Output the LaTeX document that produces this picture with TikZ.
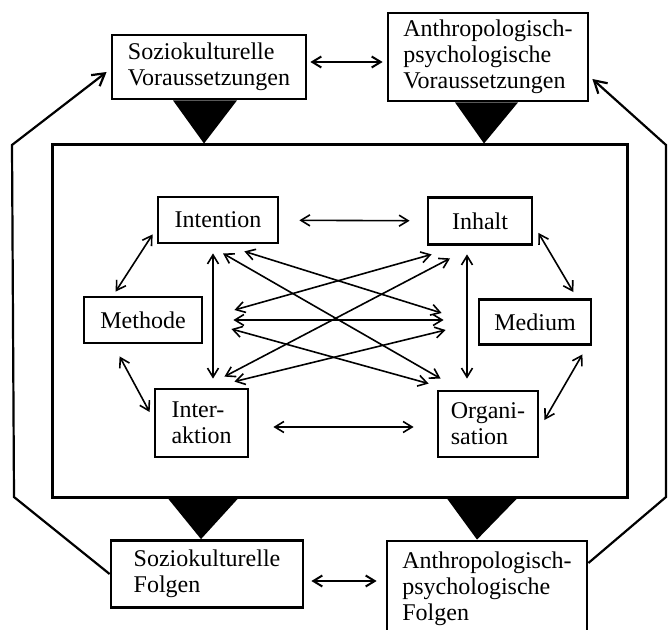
\documentclass[tikz,border=0pt]{standalone}
\usepackage{fontspec}
\setmainfont{Liberation Serif}
\usetikzlibrary{positioning, arrows.meta, calc}

\tikzset{
  kasten/.style={draw, line width=1.4pt, align=left, inner sep=0pt,
                 font=\fontsize{12}{13}\selectfont},
  pfeil/.style={{Straight Barb[length=4.5pt,width=5.5pt]}-{Straight Barb[length=4.5pt,width=5.5pt]},
                line width=0.8pt},
  bogen/.style={-{Straight Barb[length=6pt,width=7pt]}, line width=1.1pt},
  keil/.style={fill=black},
}

\begin{document}
\begin{tikzpicture}[x=0.5pt, y=-0.5pt]
  \useasboundingbox (0,0) rectangle (668,630);
  \clip (0,0) rectangle (668,630);

  % Voraussetzungen
  \node[kasten, minimum width=97pt, minimum height=32pt] (sv) at (209,67) {Soziokulturelle\\Voraussetzungen};
  \node[kasten, minimum width=100pt, minimum height=44pt] (av) at (488,57) {Anthropologisch-\\psychologische\\Voraussetzungen};
  \draw[pfeil, line width=1pt] ([shift={(3,-5)}]sv.east) -- ([shift={(-4,5)}]av.west);

  % Rahmen
  \node[draw, line width=1.5pt, minimum width=287.5pt, minimum height=176pt, inner sep=0pt] (rahmen) at (339.5,321) {};

  % Faktoren
  \node[kasten, minimum width=60pt, minimum height=23pt] (int) at (218,220) {Intention};
  \node[kasten, minimum width=52pt, minimum height=23.5pt] (inh) at (480,221) {Inhalt};
  \node[kasten, minimum width=59pt, minimum height=23pt] (met) at (143,320) {Methode};
  \node[kasten, minimum width=56pt, minimum height=22.5pt] (med) at (535,322) {Medium};
  \node[kasten, minimum width=46.5pt, minimum height=34pt] (ia) at (201.5,423) {Inter-\\aktion};
  \node[kasten, minimum width=50pt, minimum height=33pt] (org) at (488,424) {Organi-\\sation};

  % Folgen
  \node[kasten, minimum width=96pt, minimum height=33.5pt] (sf) at (207,574) {Soziokulturelle\\Folgen};
  \node[kasten, minimum width=100pt, minimum height=48pt] (af) at (487,589) {Anthropologisch-\\psychologische\\Folgen};
  \draw[pfeil, line width=1pt] ([shift={(7,7)}]sf.east) -- ([shift={(-9,-8)}]af.west);

  % Keile
  \coordinate (k1) at (sv.south |- rahmen.north);
  \coordinate (k2) at (av.south |- rahmen.north);
  \coordinate (k3) at (sf.north |- rahmen.south);
  \coordinate (k4) at (af.north |- rahmen.south);
  \fill[keil] ([shift={(-36,0)}]sv.south) -- ([shift={(28,0)}]sv.south) -- ([shift={(-5,0)}]k1) -- cycle;
  \fill[keil] ([shift={(-33,0)}]av.south) -- ([shift={(30,0)}]av.south) -- ([shift={(-4,0)}]k2) -- cycle;
  \fill[keil] ([shift={(-39,0)}]k3) -- ([shift={(31,0)}]k3) -- ([shift={(-6,0)}]sf.north) -- cycle;
  \fill[keil] ([shift={(-40,0)}]k4) -- ([shift={(30,0)}]k4) -- ([shift={(-10,0)}]af.north) -- cycle;

  % Rueckkopplung
  \coordinate (l1) at (14,497);
  \coordinate (l2) at (12,145);
  \coordinate (r1) at (666,497);
  \coordinate (r2) at (666,145);
  \draw[bogen] (sf.west) -- (l1) -- (l2) -- ([shift={(-4,5)}]sv.west);
  \draw[bogen] ([shift={(0,-26)}]af.east) -- (r1) -- (r2) -- ([shift={(3,22)}]av.east);

  % Beziehungen
  \draw[pfeil, shorten <=10pt, shorten >=8.5pt] (int) -- (inh);
  \draw[pfeil] ([shift={(-4,-10)}]int.south west) -- ([shift={(33,-4)}]met.north west);
  \draw[pfeil] ([shift={(5,-13)}]inh.south east) -- ([shift={(-19,-6)}]med.north east);
  \draw[pfeil] ([shift={(37,12)}]met.south west) -- ([shift={(-4,-11)}]ia.west);
  \draw[pfeil] ([shift={(-10,8.5)}]med.south east) -- ([shift={(5,-4)}]org.east);
  \draw[pfeil] ([shift={(24,4)}]ia.east) -- ([shift={(-23,3)}]org.west);
  \draw[pfeil] ([shift={(-5,9)}]int.south) -- ([shift={(11.5,-9)}]ia.north);
  \draw[pfeil] ([shift={(-13,8.5)}]inh.south) -- ([shift={(-21,-11)}]org.north);
  \draw[pfeil] ([shift={(30,0)}]met.east) -- ([shift={(-34,-2)}]med.west);
  \draw[pfeil] ([shift={(5,9)}]int.south) -- ([shift={(4,-11)}]org.north west);
  \draw[pfeil] ([shift={(-35,7)}]int.south east) -- ([shift={(-36,-9)}]med.west);
  \draw[pfeil] ([shift={(5,8.5)}]inh.south west) -- ([shift={(31,-10)}]met.east);
  \draw[pfeil] ([shift={(-30,12.5)}]inh.south) -- ([shift={(-25,-11)}]ia.north east);
  \draw[pfeil] ([shift={(28,9)}]met.east) -- ([shift={(-8,-6)}]org.north west);
  \draw[pfeil] ([shift={(-32,8)}]med.west) -- ([shift={(-15,-6)}]ia.north east);
\end{tikzpicture}
\end{document}
